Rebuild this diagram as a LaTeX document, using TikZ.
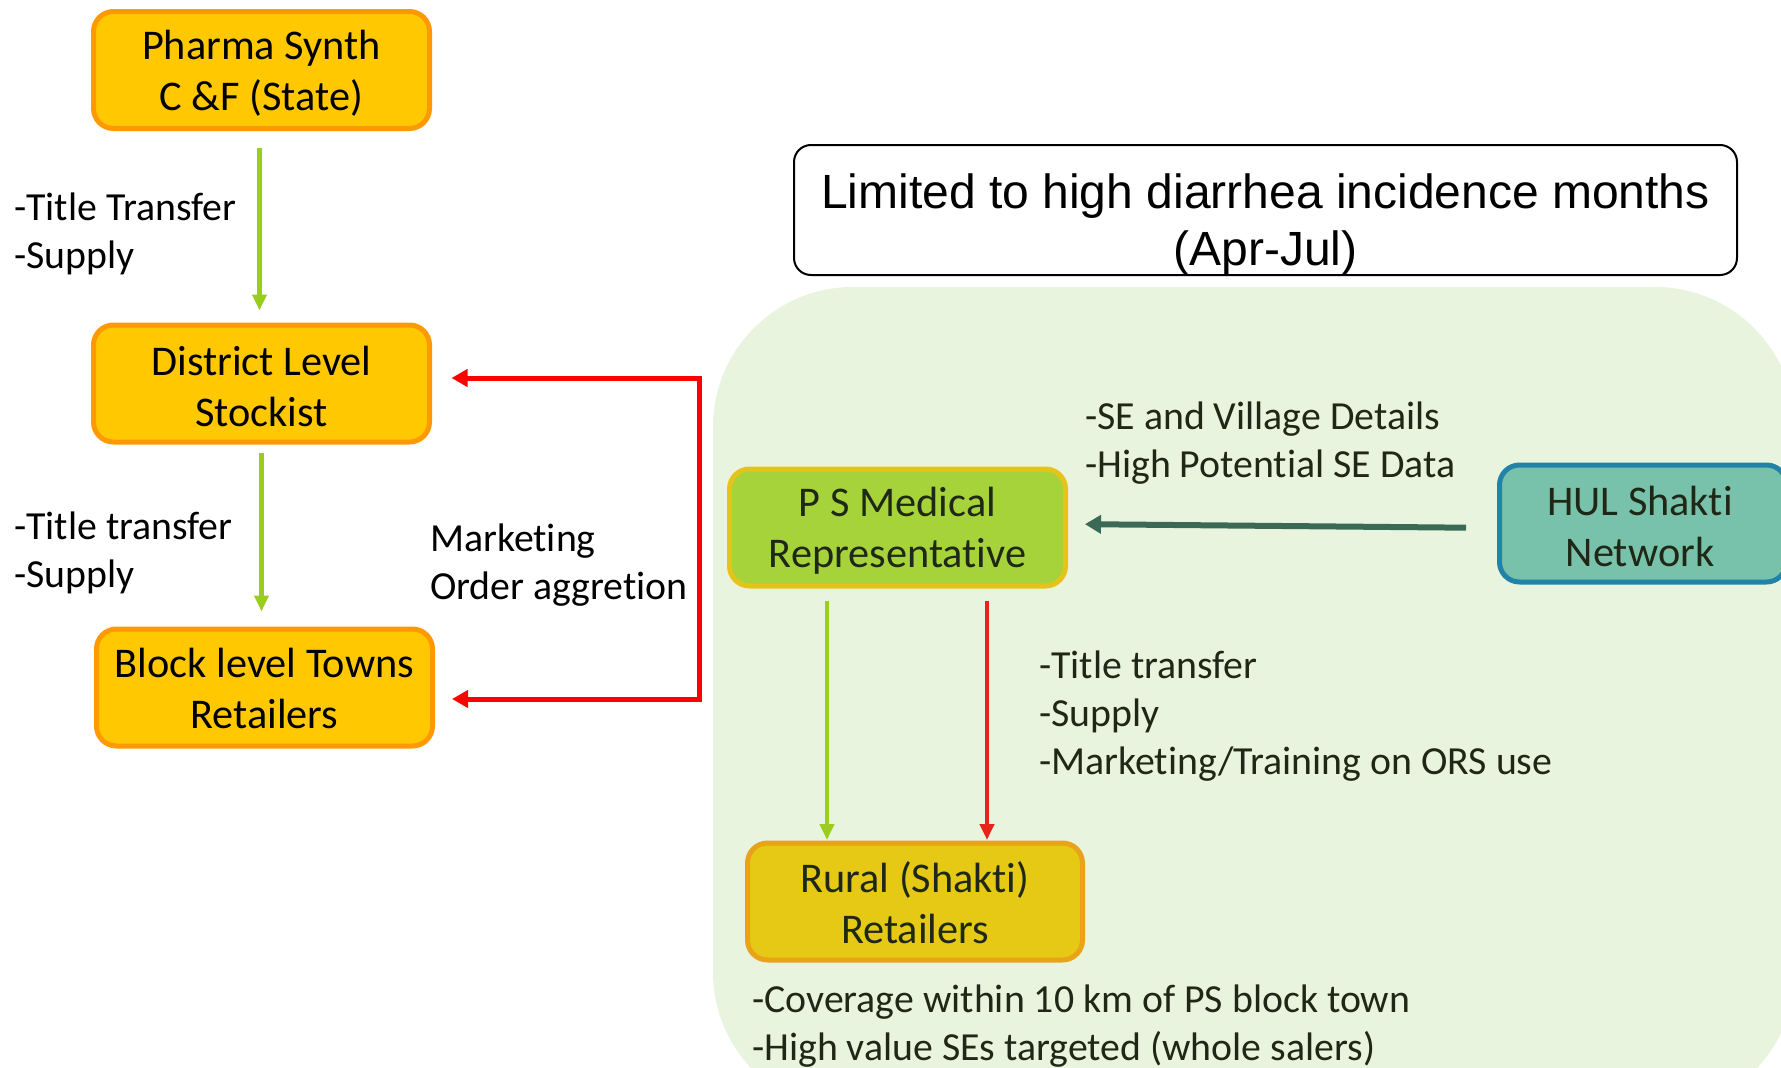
\documentclass[tikz,border=0pt]{standalone}
\usepackage{fontspec}
\setmainfont{Carlito}[RawFeature={-liga;-clig;-calt;-dlig}]
\newfontfamily\arialf{Liberation Sans}
\usetikzlibrary{arrows.meta,calc}
\definecolor{orfill}{HTML}{FFC800}
\definecolor{orline}{HTML}{FF9900}
\definecolor{psfill}{HTML}{A6D33A}
\definecolor{psline}{HTML}{E5C41A}
\definecolor{hulfill}{HTML}{78C2AC}
\definecolor{hulline}{HTML}{2283A8}
\definecolor{rufill}{HTML}{E5C914}
\definecolor{ruline}{HTML}{E8A317}
\definecolor{region}{HTML}{E9F4DE}
\definecolor{arrgreen}{HTML}{9ACD1E}
\definecolor{arrred}{HTML}{FF0000}
\definecolor{arrred2}{HTML}{E8231A}
\definecolor{arrdark}{HTML}{3A6A56}
\definecolor{darktext}{HTML}{1F2816}
\tikzset{
  boxbase/.style={rounded corners=20pt, line width=5pt, outer sep=0pt, inner sep=0pt,
    minimum width=336pt, minimum height=117pt},
  boxtext/.style={align=center, inner sep=0pt, font=\fontsize{42.3}{51}\selectfont},
  orbox/.style={boxbase, draw=orline, fill=orfill},
  psbox/.style={boxbase, draw=psline, fill=psfill},
  hulbox/.style={boxbase, draw=hulline, fill=hulfill, minimum width=287pt},
  rubox/.style={boxbase, draw=ruline, fill=rufill, minimum width=335pt},
  lbl/.style={anchor=west, align=left, inner sep=0pt, font=\fontsize{39.8}{48}\selectfont},
  garrow/.style={draw=arrgreen, line width=4.5pt, -{Triangle[length=16pt,width=14pt]}},
  rarrow/.style={draw=arrred, line width=5pt, -{Triangle[length=16pt,width=17pt]}},
  rarrow2/.style={draw=arrred2, line width=4.5pt, -{Triangle[length=16pt,width=14pt]}},
  darrow/.style={draw=arrdark, line width=6pt, -{Triangle[length=16pt,width=18pt]}},
}
\begin{document}
\begin{tikzpicture}[x=1pt,y=-1pt]
\path[use as bounding box] (0,0) rectangle (1781,1068);
\clip (0,0) rectangle (1781,1068);
\fill[white] (0,0) rectangle (1781,1068);
% green region
\fill[region, rounded corners=140pt] (713,287) rectangle (1795,1112);
% top note
\node[draw=black, line width=2pt, rounded corners=17pt, minimum width=943pt, minimum height=130pt, inner sep=0pt] (note) at (1265.5,210) {};
\node[font=\arialf\fontsize{48}{57}\selectfont, align=center, inner sep=0pt] (notetext) at ($(note.center)+(0,15)$) {Limited to high diarrhea incidence months\\(Apr-Jul)};
% boxes
\node[orbox] (pharma) at (261.5,70) {};
\node[boxtext] (pharmat) at ($(pharma.center)+(0,3)$) {Pharma Synth\\C \&F (State)};
\node[orbox] (district) at (261.5,383.5) {};
\node[boxtext] (districtt) at ($(district.center)+(0,3)$) {District Level\\Stockist};
\node[orbox] (block) at (264.5,687.5) {};
\node[boxtext] (blockt) at ($(block.center)+(0,1)$) {Block level Towns\\Retailers};
\node[psbox] (ps) at (897.5,527.5) {};
\node[boxtext, text=darktext] (pst) at ($(ps.center)+(0,3)$) {P S Medical\\Representative};
\node[hulbox] (hul) at (1643,523.5) {};
\node[boxtext, text=darktext] (hult) at ($(hul.center)+(-3,3)$) {HUL Shakti\\Network};
\node[rubox] (rural) at (915,901.5) {};
\node[boxtext, text=darktext] (ruralt) at ($(rural.center)+(0,1)$) {Rural (Shakti)\\Retailers};
% labels
\node[lbl] (l1) at (14,234) {-Title Transfer\\-Supply};
\node[lbl] (l2) at (14,553) {-Title transfer\\-Supply};
\node[lbl] (l3) at (430,565) {Marketing\\Order aggretion};
\node[lbl, text=darktext] (l4) at (1085,443) {-SE and Village Details\\-High Potential SE Data};
\node[lbl, text=darktext] (l5) at (1039,716) {-Title transfer\\-Supply\\-Marketing/Training on ORS use};
\node[lbl, text=darktext] (l6) at (752,1026) {-Coverage within 10 km of PS block town\\-High value SEs targeted (whole salers)};
% green arrows on left
\draw[garrow, shorten <=19.5pt, shorten >=14.5pt] ($(pharma.south)+(-2,0)$) -- ($(district.north)+(-2,0)$);
\draw[garrow, shorten <=10.5pt, shorten >=17.5pt] (district.south) -- (district.south |- block.north);
% red bracket
\coordinate (rt) at (701,378);
\coordinate (rb) at (701,699);
\draw[arrred, line width=5pt] ($(rt)+(-2,-2.5)$) -- ($(rb)+(-2,2.5)$);
\draw[rarrow, shorten >=22pt] (rt) -- (rt -| district.east);
\draw[rarrow, shorten >=19.5pt] (rb) -- (rb -| block.east);
% HUL -> PS
\draw[darrow, shorten <=33.5pt, shorten >=19.5pt] ($(hul.west)+(0,4.5)$) -- ($(ps.east)+(0,-3.5)$);
% PS -> Rural
\coordinate (gx) at (827,0);
\coordinate (rx) at (987,0);
\draw[garrow, shorten <=14.5pt, shorten >=3pt] (ps.south -| gx) -- (rural.north -| gx);
\draw[rarrow2, shorten <=14.5pt, shorten >=3pt] (ps.south -| rx) -- (rural.north -| rx);
\end{tikzpicture}
\end{document}
